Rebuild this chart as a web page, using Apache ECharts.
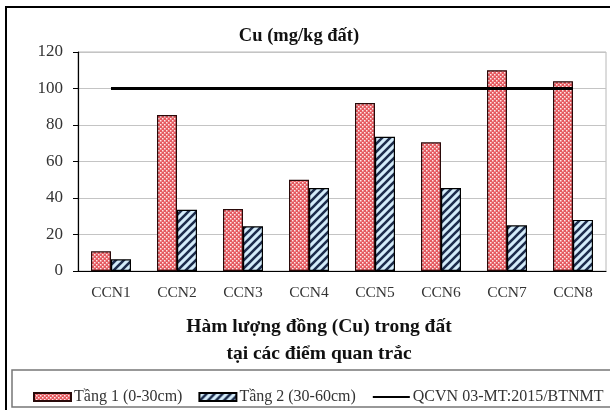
<!DOCTYPE html>
<html>
<head>
<meta charset="utf-8">
<script src="https://cdn.jsdelivr.net/npm/echarts@6/dist/echarts.min.js"></script>
<style>
  html, body { margin: 0; padding: 0; background: #fff; }
  #chart { width: 610px; height: 410px; }
</style>
</head>
<body>
<div id="chart"></div>
<script>
// data
const categories = ['CCN1', 'CCN2', 'CCN3', 'CCN4', 'CCN5', 'CCN6', 'CCN7', 'CCN8']
const tang1 = [10.8, 85.5, 34, 50, 92, 70.5, 110, 104]
const tang2 = [6.4, 33.5, 24.5, 45.5, 73.5, 45.5, 25, 28]
const qcvn = [100, 100, 100, 100, 100, 100, 100, 100]
const yTicks = [0, 20, 40, 60, 80, 100, 120]

// patterns
const dotPattern = () => {
    let c = document.createElement('canvas')
    c.width = 4
    c.height = 4
    let ctx = c.getContext('2d')
    ctx.fillStyle = '#e55a60'
    ctx.fillRect(0, 0, 4, 4)
    ctx.fillStyle = '#fde8e8'
    ctx.fillRect(0, 0, 1.5, 1.5)
    ctx.fillRect(2, 2, 1.5, 1.5)
    return c
}
const stripePattern = () => {
    let c = document.createElement('canvas')
    c.width = 8
    c.height = 8
    let ctx = c.getContext('2d')
    ctx.fillStyle = '#d4ecfa'
    ctx.fillRect(0, 0, 8, 8)
    ctx.strokeStyle = '#1c2c4c'
    ctx.lineWidth = 2.6
    ctx.beginPath()
    ctx.moveTo(-2, 10); ctx.lineTo(10, -2)
    ctx.moveTo(-6, 6); ctx.lineTo(6, -6)
    ctx.moveTo(2, 14); ctx.lineTo(14, 2)
    ctx.stroke()
    return c
}

const serif = '"Liberation Serif", "DejaVu Serif", serif'
const dom = document.querySelector('#chart')
let myChart = echarts.init(dom)
let option = {
    animation: false,
    textStyle: { fontFamily: serif },
    title: [
        {
            text: 'Cu (mg/kg đất)',
            left: 294,
            top: 22,
            textAlign: 'center',
            textStyle: { fontFamily: serif, fontSize: 18.5, fontWeight: 'bold', color: '#111' },
        },
        {
            text: 'Hàm lượng đồng (Cu) trong đất\ntại các điểm quan trắc',
            left: 314,
            top: 308,
            textAlign: 'center',
            textStyle: { fontFamily: serif, fontSize: 19.5, fontWeight: 'bold', color: '#111', lineHeight: 27 },
        },
    ],
    legend: {
        left: 28,
        top: 384,
        itemWidth: 37,
        itemHeight: 8,
        itemGap: 16,
        textStyle: { fontFamily: serif, fontSize: 16, color: '#333', padding: [0, 0, 0, -2] },
        data: [
            { name: 'Tầng 1 (0-30cm)', icon: 'rect' },
            { name: 'Tầng 2 (30-60cm)', icon: 'rect' },
            { name: 'QCVN 03-MT:2015/BTNMT', itemStyle: { opacity: 0 } },
        ],
    },
    grid: {
        left: 78,
        right: 4,
        top: 52,
        bottom: 139,
        show: true,
        borderColor: '#b8b8b8',
        borderWidth: 1,
    },
    xAxis: {
        type: 'category',
        data: categories,
        axisLine: { lineStyle: { color: '#000', width: 1.2 } },
        axisTick: { length: 5, lineStyle: { color: '#000' } },
        axisLabel: { fontFamily: serif, fontSize: 15.5, color: '#333', margin: 14 },
    },
    yAxis: {
        type: 'value',
        min: yTicks[0],
        max: yTicks[yTicks.length - 1],
        interval: 20,
        axisLine: { show: true, lineStyle: { color: '#000', width: 1.2 } },
        axisTick: { show: true, length: 5, lineStyle: { color: '#000' } },
        axisLabel: { fontFamily: serif, fontSize: 17, color: '#333', margin: 15 },
        splitLine: { lineStyle: { color: '#c4c4c4' } },
    },
    series: [
        {
            name: 'Tầng 1 (0-30cm)',
            type: 'bar',
            data: tang1,
            barWidth: 20,
            barGap: '0%',
            itemStyle: {
                color: { image: dotPattern(), repeat: 'repeat' },
                borderColor: '#2a0a0a',
                borderWidth: 1.2,
            },
        },
        {
            name: 'Tầng 2 (30-60cm)',
            type: 'bar',
            data: tang2,
            barWidth: 20,
            barGap: '0%',
            itemStyle: {
                color: { image: stripePattern(), repeat: 'repeat' },
                borderColor: '#000',
                borderWidth: 1.2,
            },
        },
        {
            name: 'QCVN 03-MT:2015/BTNMT',
            type: 'line',
            data: qcvn,
            symbol: 'none',
            z: 5,
            lineStyle: { color: '#000', width: 3 },
            itemStyle: { color: '#000' },
        },
    ],
    graphic: [
        {
            type: 'rect',
            shape: { x: 6, y: 7, width: 620, height: 420 },
            style: { fill: 'none', stroke: '#000', lineWidth: 2 },
            silent: true,
        },
        {
            type: 'rect',
            shape: { x: 12, y: 370, width: 620, height: 37 },
            style: { fill: 'none', stroke: '#777', lineWidth: 1.5 },
            silent: true,
        },
    ],
}
myChart.setOption(option)
</script>
</body>
</html>
